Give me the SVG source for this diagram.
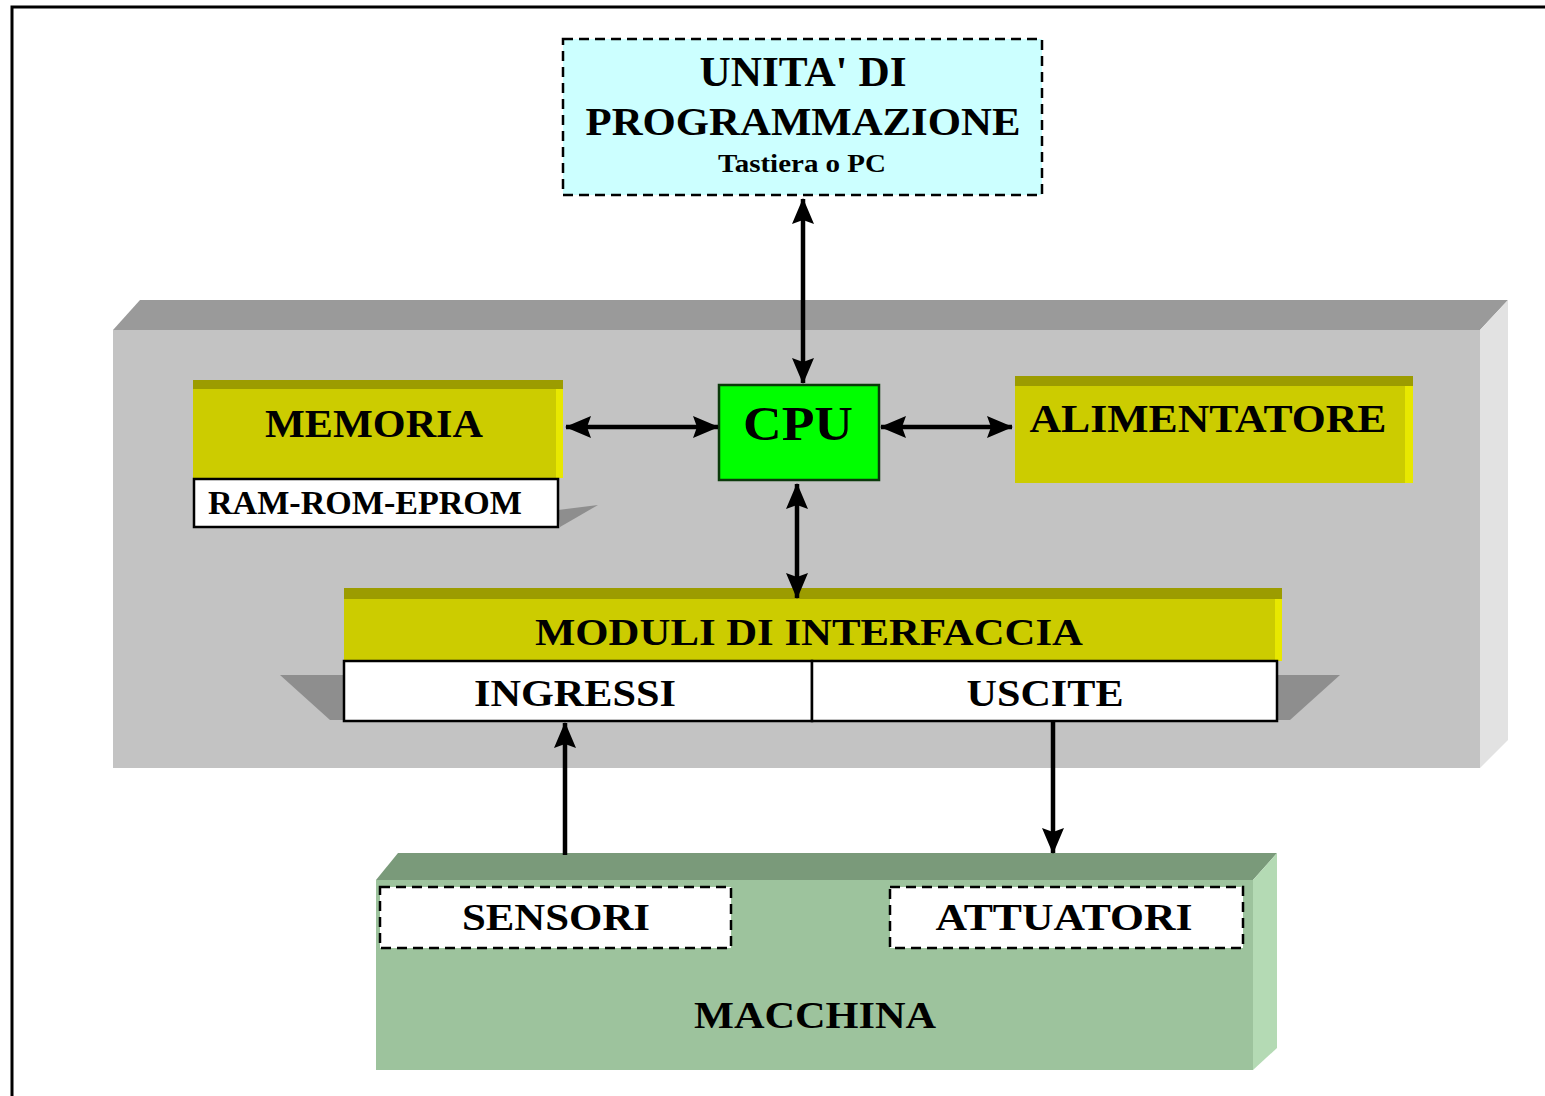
<svg xmlns="http://www.w3.org/2000/svg" width="1545" height="1096" viewBox="0 0 1545 1096">
<style>
text{font-family:"Liberation Serif","Times New Roman",serif;font-weight:bold;fill:#000;text-anchor:middle}
.yel{fill:#cccc00}
.ytop{fill:#9c9c00}
.yside{fill:#e8e800}
.wbox{fill:#fff;stroke:#000;stroke-width:2.5}
.dash{stroke:#000;stroke-width:2.5;stroke-dasharray:10,6}
.conn{stroke:#000;stroke-width:4.5;fill:none}
.shadow{fill:#8e8e8e}
</style>
<defs>
<marker id="ah" viewBox="0 0 26 22" refX="25" refY="11" markerWidth="26" markerHeight="22" markerUnits="userSpaceOnUse" orient="auto-start-reverse">
<path d="M0,0 L26,11 L0,22 L4,11 z" fill="#000"/>
</marker>
</defs>
<rect width="1545" height="1096" fill="#fff"/>
<path d="M12,1096 L12,7 L1545,7" fill="none" stroke="#000" stroke-width="3"/>

<g id="plc">
<polygon points="113,330 140,300 1508,300 1480,330" fill="#9a9a9a"/>
<polygon points="1480,330 1508,300 1508,740 1480,768" fill="#e2e2e2"/>
<rect x="113" y="330" width="1367" height="438" fill="#c3c3c3"/>
</g>

<g id="unita">
<rect x="563" y="39" width="479" height="156" fill="#ccffff" class="dash"/>
<text x="803" y="86" font-size="42" textLength="207" lengthAdjust="spacingAndGlyphs">UNITA' DI</text>
<text x="803" y="135" font-size="40" textLength="435" lengthAdjust="spacingAndGlyphs">PROGRAMMAZIONE</text>
<text x="802" y="172" font-size="26" textLength="168" lengthAdjust="spacingAndGlyphs">Tastiera o PC</text>
</g>

<g id="memoria">
<polygon points="558,510 598,505 560,527" class="shadow"/>
<rect x="193" y="380" width="370" height="98" class="yel"/>
<rect x="193" y="380" width="370" height="9" class="ytop"/>
<rect x="556" y="389" width="7" height="89" class="yside"/>
<text x="374" y="437" font-size="40" textLength="218" lengthAdjust="spacingAndGlyphs">MEMORIA</text>
<rect x="194" y="479" width="364" height="48" class="wbox"/>
<text x="365" y="514" font-size="33" textLength="314" lengthAdjust="spacingAndGlyphs">RAM-ROM-EPROM</text>
</g>

<g id="cpu">
<rect x="719" y="385" width="160" height="95" fill="#00ff00" stroke="#0a3a0a" stroke-width="2.5"/>
<text x="798" y="440" font-size="48" textLength="110" lengthAdjust="spacingAndGlyphs" fill="#0a2a0a">CPU</text>
</g>

<g id="alimentatore">
<rect x="1015" y="376" width="398" height="107" class="yel"/>
<rect x="1015" y="376" width="398" height="10" class="ytop"/>
<rect x="1405" y="386" width="8" height="97" class="yside"/>
<text x="1208" y="432" font-size="40" textLength="357" lengthAdjust="spacingAndGlyphs">ALIMENTATORE</text>
</g>

<g id="moduli">
<polygon points="280,675 344,675 344,720 330,720" class="shadow"/>
<polygon points="1277,675 1340,675 1290,720 1277,720" class="shadow"/>
<rect x="344" y="588" width="938" height="73" class="yel"/>
<rect x="344" y="588" width="938" height="11" class="ytop"/>
<rect x="1275" y="599" width="7" height="62" class="yside"/>
<text x="809" y="645" font-size="38" textLength="548" lengthAdjust="spacingAndGlyphs">MODULI DI INTERFACCIA</text>
</g>

<g id="ingressi">
<rect x="344" y="661" width="468" height="60" class="wbox"/>
<text x="575" y="706" font-size="38" textLength="202" lengthAdjust="spacingAndGlyphs">INGRESSI</text>
</g>

<g id="uscite">
<rect x="812" y="661" width="465" height="60" class="wbox"/>
<text x="1045" y="706" font-size="38" textLength="157" lengthAdjust="spacingAndGlyphs">USCITE</text>
</g>

<g id="macchina">
<polygon points="376,880 398,853 1277,853 1253,880" fill="#7a9a7a"/>
<polygon points="1253,880 1277,853 1277,1048 1253,1070" fill="#b4dab4"/>
<rect x="376" y="880" width="877" height="190" fill="#9dc39d"/>
<text x="815" y="1028" font-size="38" textLength="242" lengthAdjust="spacingAndGlyphs" fill="#142414">MACCHINA</text>
</g>

<g id="sensori">
<rect x="380" y="887" width="351" height="61" fill="#fff" class="dash"/>
<text x="556" y="930" font-size="38" textLength="188" lengthAdjust="spacingAndGlyphs">SENSORI</text>
</g>

<g id="attuatori">
<rect x="890" y="887" width="353" height="61" fill="#fff" class="dash"/>
<text x="1064" y="930" font-size="38" textLength="257" lengthAdjust="spacingAndGlyphs">ATTUATORI</text>
</g>

<g id="connectors">
<line x1="803" y1="199" x2="803" y2="383" class="conn" marker-start="url(#ah)" marker-end="url(#ah)"/>
<line x1="566" y1="427" x2="718" y2="427" class="conn" marker-start="url(#ah)" marker-end="url(#ah)"/>
<line x1="881" y1="427" x2="1012" y2="427" class="conn" marker-start="url(#ah)" marker-end="url(#ah)"/>
<line x1="797" y1="484" x2="797" y2="598" class="conn" marker-start="url(#ah)" marker-end="url(#ah)"/>
<line x1="565" y1="855" x2="565" y2="723" class="conn" marker-end="url(#ah)"/>
<line x1="1053" y1="722" x2="1053" y2="853" class="conn" marker-end="url(#ah)"/>
</g>
</svg>
